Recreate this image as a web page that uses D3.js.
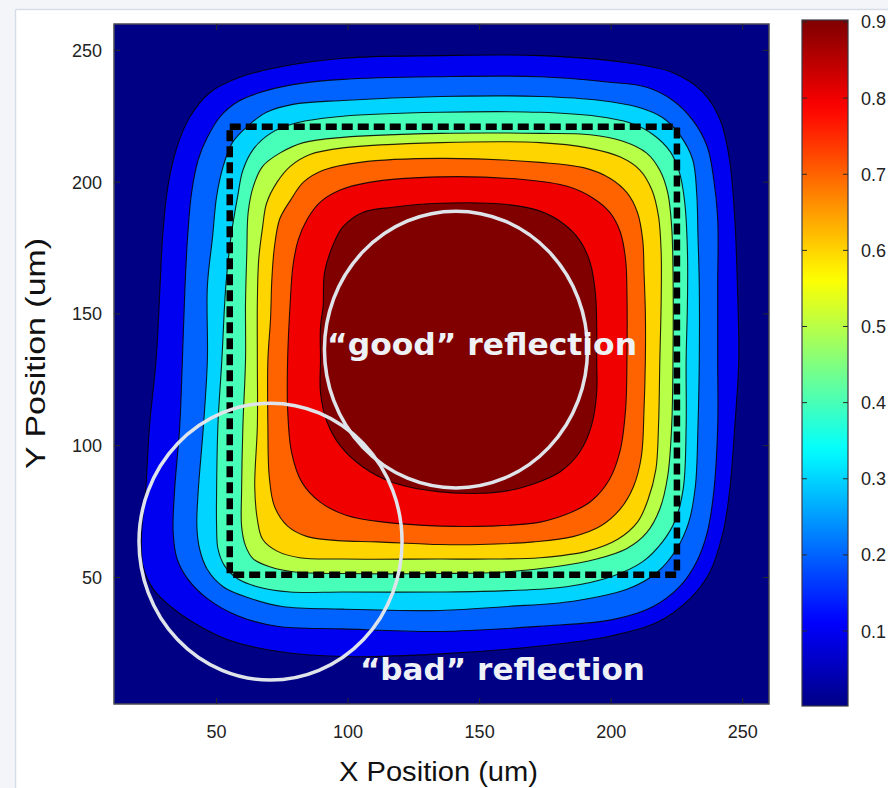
<!DOCTYPE html>
<html>
<head>
<meta charset="utf-8">
<script src="https://cdn.jsdelivr.net/npm/d3@7"></script>
<style>
  body { margin: 0; background: #ffffff; }
  svg { display: block; }
</style>
</head>
<body>
<svg id="chart" width="888" height="788"></svg>
<script>
// Contour levels of the normalised reflection intensity
const levels = [0.1, 0.2, 0.3, 0.4, 0.5, 0.6, 0.7, 0.8, 0.9];

// Iso-lines, one closed ring per level, as [x (um), y (um)]
const ring010 = [[98,247],[135,248],[173,248],[204.5,245.5],[223.5,241.5],[235,234],[241.5,223.5],[245,208.5],[247,186],[248,160.5],[248.5,132.5],[247,107.5],[245,82.5],[242.5,67],[237.5,52],[230,42],[217.5,33],[198.5,27.5],[173,24],[135,21],[98,20],[73,22],[54,26.5],[41,33],[32.5,39],[26,45.5],[22,54.5],[21.5,67],[23,82.5],[24.5,107.5],[27,132.5],[28.5,160.5],[29.5,179.5],[31.5,198.5],[35,213.5],[40,225],[47.5,234],[58,239.5],[73,243.5]];
const ring020 = [[98,239],[135,240],[173,240],[198.5,238],[213.5,236],[223.5,231],[231,223.5],[236.5,213.5],[239,201],[240.5,186],[240.5,160.5],[240.5,132.5],[240.5,107.5],[239,82.5],[236.5,67],[232.5,56],[226,46.5],[216,39],[200.5,34],[173,31.5],[135,29.5],[98,30.5],[73,31.5],[58,35.5],[46.5,42],[39,49.5],[35,57],[33.5,67],[34,82.5],[36,107.5],[37,132.5],[38,160.5],[39,179.5],[40.5,196],[43,208.5],[46.5,217],[51.5,225],[58,230.5],[66.5,234],[79,237]];
const ring030 = [[98,231],[135,232.5],[173,232.5],[196,231],[210,228.5],[219.5,224.5],[226,218],[231,208.5],[232.5,196],[233,179.5],[233.5,160.5],[233.5,132.5],[233,107.5],[232,84.5],[229.5,71],[225,61],[217.5,52],[206,45.5],[185.5,41],[160.5,39],[135,37.5],[98,38],[75,39],[61.5,42.5],[52.5,46.5],[46.5,53],[43.5,61],[42.5,69.5],[43,82.5],[45,107.5],[46.5,132.5],[46.5,160.5],[48.5,179.5],[50,194.5],[52.5,206],[56,215],[61.5,221],[69,226.5],[79,229.5]];
const ring040 = [[98,225],[135,226.5],[173,226.5],[194.5,225],[207,222.5],[216,218],[222.5,211.5],[226,203.5],[228,192],[229,173.5],[229,154.5],[228.5,132.5],[228.5,107.5],[227.5,84.5],[224.5,72],[219.5,63.5],[212,56],[200.5,50.5],[183,46.5],[160.5,45],[135,44.5],[98,44.5],[78,44.5],[65.5,46.5],[58,49.5],[53,54.5],[50.5,61],[50,69.5],[50,82.5],[50.5,107.5],[52,132.5],[53.5,160.5],[55.5,179.5],[58,194.5],[60,204.5],[64,212.5],[70.5,218.5],[80.5,222.5]];
const ring050 = [[98,217],[135,218.5],[173,218.5],[192,218],[204.5,215.5],[213.5,211],[218.5,204.5],[221.5,196],[223,183],[223.5,167],[223.5,132.5],[223,107.5],[221.5,88.5],[218.5,76],[213.5,67],[206,61],[194.5,57],[178,54],[158,52],[135,51.5],[98,51.5],[80.5,52],[70.5,54],[64,57],[61,62],[59.5,69.5],[59.5,82.5],[60,107.5],[61,132.5],[61,154.5],[61.5,173.5],[62,188.5],[64,198.5],[67.5,206],[74,211],[83,215]];
const ring060 = [[98,213],[135,215],[173,215],[191,213],[203.5,209.5],[211,204.5],[215.5,197],[218,187],[219,173.5],[219,154.5],[218.5,132.5],[218,107.5],[217,91],[214,79.5],[210,71],[202.5,64.5],[191,60],[173,57.5],[154,57],[135,57],[98,57],[81.5,57.5],[73,60],[67.5,64.5],[65.5,72],[64.5,84.5],[65.5,107.5],[65.5,132.5],[65.5,154.5],[66,170.5],[67.5,183],[69,192],[73,200],[78,206],[85.5,210.5]];
const ring070 = [[104.5,207.5],[135,209],[173,207.5],[189.5,205.5],[199.5,201.5],[206,196],[210,188.5],[212,178],[212.5,165.5],[213,150.5],[213,132.5],[212.5,114],[211.5,96],[208.5,84.5],[203.5,76],[196,69.5],[185.5,65.5],[170.5,63.5],[150,62.5],[135,62.5],[111,63.5],[96,64],[84.5,65.5],[77,69.5],[72,77],[70,88.5],[69.5,107.5],[69.5,132.5],[70.5,148],[71,163],[72,175.5],[74,186],[78,193],[83,200],[90.5,204.5]];
const ring080 = [[108.5,200],[135,202],[166.5,201],[183,198.5],[193,194],[199.5,188.5],[203.5,181],[205.5,170.5],[206,158],[206,132.5],[205.5,114],[203.5,98.5],[199.5,87.5],[193,79.5],[185.5,75],[173,71],[154,69.5],[135,69.5],[113.5,71],[99.5,73.5],[89.5,78.5],[82.5,86],[78.5,97.5],[77,114],[77,132.5],[78,154.5],[79,168],[81,178],[84.5,186],[89.5,192.5],[97,197]];
const ring090 = [[117,190.5],[135,192],[160.5,191.5],[173,189],[181.5,184.5],[188,178],[192,169.5],[194,158],[194.5,145],[194.5,132.5],[194.5,120],[192.5,107.5],[188,97.5],[180.5,90],[170.5,85.5],[158,82.5],[135,82.5],[117,86],[105.5,92],[97,100],[92,109],[89.5,120],[89.5,132.5],[89.5,145],[90.5,153],[91,165.5],[94,175.5],[98,183],[105.5,188.5]];
const contourRings = [ring010, ring020, ring030, ring040, ring050, ring060, ring070, ring080, ring090];

// Axis ticks
const xTicks = [50, 100, 150, 200, 250];
const yTicks = [50, 100, 150, 200, 250];
const colorbarTicks = [0.1, 0.2, 0.3, 0.4, 0.5, 0.6, 0.7, 0.8, 0.9];

// Pad outline (um)
const padX = [55, 225];
const padY = [51, 221];

// Highlighted regions: centre (um), radii (um), caption and its anchor (um)
const regionCentres = [[141, 136.5], [70.5, 63.6]];
const regionRadii = [[50, 52.5], [50, 52.5]];
const regionCaptions = ["\u201cgood\u201d reflection", "\u201cbad\u201d reflection"];
const captionAnchors = [[92, 134.6], [104.5, 11.1]];
const captionWidths = [310, 285];

const svg = d3.select("#chart");

// Page frame
svg.append("rect").attr("x", 0).attr("y", 0).attr("width", 888).attr("height", 9).attr("fill", "#f3f5f8");
svg.append("rect").attr("x", 0).attr("y", 0).attr("width", 15).attr("height", 788).attr("fill", "#f3f5f8");
svg.append("line").attr("x1", 15.5).attr("x2", 888).attr("y1", 9.5).attr("y2", 9.5).attr("stroke", "#d6dde6").attr("stroke-width", 1.5);
svg.append("line").attr("x1", 15.5).attr("x2", 15.5).attr("y1", 9.5).attr("y2", 788).attr("stroke", "#d6dde6").attr("stroke-width", 1.5);

// Scales
const plot = { left: 114, right: 769, top: 24, bottom: 704 };
const x = d3.scaleLinear().domain([11, 260]).range([plot.left, plot.right]);
const y = d3.scaleLinear().domain([2, 260]).range([plot.bottom, plot.top]);

// Jet colour map over the colour-axis range
const cMax = 0.9;
const jet = d3.scaleLinear()
  .domain([0, 0.125, 0.375, 0.625, 0.875, 1].map(t => t * cMax))
  .range(["#000084", "#0000ff", "#00ffff", "#ffff00", "#ff0000", "#800000"])
  .clamp(true);

svg.append("clipPath").attr("id", "plotClip")
  .append("rect").attr("x", plot.left).attr("y", plot.top)
  .attr("width", plot.right - plot.left).attr("height", plot.bottom - plot.top);

const gPlot = svg.append("g").attr("clip-path", "url(#plotClip)");

// Lowest band
gPlot.append("rect").attr("x", plot.left).attr("y", plot.top)
  .attr("width", plot.right - plot.left).attr("height", plot.bottom - plot.top)
  .attr("fill", jet(0));

// Filled contour bands, painted from the outermost level inwards
const ringLine = d3.line().x(d => x(d[0])).y(d => y(d[1])).curve(d3.curveCatmullRomClosed.alpha(0.5));
gPlot.selectAll("path.band").data(levels).join("path")
  .attr("class", "band")
  .attr("d", (lv, i) => ringLine(contourRings[i]))
  .attr("fill", lv => jet(lv))
  .attr("stroke", "#000")
  .attr("stroke-opacity", 0.85)
  .attr("stroke-width", 1.1);

// Pad outline
gPlot.append("rect")
  .attr("x", x(padX[0])).attr("y", y(padY[1]))
  .attr("width", x(padX[1]) - x(padX[0])).attr("height", y(padY[0]) - y(padY[1]))
  .attr("fill", "none").attr("stroke", "#000").attr("stroke-width", 6.5)
  .attr("stroke-dasharray", "11,5");

// Highlighted regions
gPlot.selectAll("ellipse.region").data(regionCentres).join("ellipse")
  .attr("class", "region")
  .attr("cx", d => x(d[0])).attr("cy", d => y(d[1]))
  .attr("rx", (d, i) => x(d[0] + regionRadii[i][0]) - x(d[0]))
  .attr("ry", (d, i) => y(d[1] - regionRadii[i][1]) - y(d[1]))
  .attr("fill", "none").attr("stroke", "#dfe4eb").attr("stroke-width", 3.5);

gPlot.selectAll("text.caption").data(regionCaptions).join("text")
  .attr("class", "caption")
  .attr("x", (d, i) => x(captionAnchors[i][0]))
  .attr("y", (d, i) => y(captionAnchors[i][1]))
  .attr("textLength", (d, i) => captionWidths[i])
  .attr("lengthAdjust", "spacingAndGlyphs")
  .attr("font-family", "DejaVu Sans, Verdana, sans-serif")
  .attr("font-weight", "bold")
  .attr("font-size", 31)
  .attr("fill", "#eef1f6")
  .text(d => d);

// Axes frame and inward ticks
const axisColor = "#2a2a2a";
const tickLen = 6;
const gAxes = svg.append("g");
gAxes.append("rect").attr("x", plot.left).attr("y", plot.top)
  .attr("width", plot.right - plot.left).attr("height", plot.bottom - plot.top)
  .attr("fill", "none").attr("stroke", "#4a4a55").attr("stroke-width", 1.5);

gAxes.selectAll("line.xt").data(xTicks).join("line").attr("class", "xt")
  .attr("x1", d => x(d)).attr("x2", d => x(d))
  .attr("y1", plot.bottom).attr("y2", plot.bottom - tickLen)
  .attr("stroke", axisColor).attr("stroke-width", 1);
gAxes.selectAll("line.xt2").data(xTicks).join("line").attr("class", "xt2")
  .attr("x1", d => x(d)).attr("x2", d => x(d))
  .attr("y1", plot.top).attr("y2", plot.top + tickLen)
  .attr("stroke", axisColor).attr("stroke-width", 1);
gAxes.selectAll("line.yt").data(yTicks).join("line").attr("class", "yt")
  .attr("y1", d => y(d)).attr("y2", d => y(d))
  .attr("x1", plot.left).attr("x2", plot.left + tickLen)
  .attr("stroke", axisColor).attr("stroke-width", 1);
gAxes.selectAll("line.yt2").data(yTicks).join("line").attr("class", "yt2")
  .attr("y1", d => y(d)).attr("y2", d => y(d))
  .attr("x1", plot.right).attr("x2", plot.right - tickLen)
  .attr("stroke", axisColor).attr("stroke-width", 1);

const labelFont = "Liberation Sans, Arial, Helvetica, sans-serif";
gAxes.selectAll("text.xl").data(xTicks).join("text").attr("class", "xl")
  .attr("x", d => x(d)).attr("y", 738)
  .attr("text-anchor", "middle")
  .attr("font-family", labelFont).attr("font-size", 18).attr("fill", "#222")
  .text(d => d);
gAxes.selectAll("text.yl").data(yTicks).join("text").attr("class", "yl")
  .attr("x", 102).attr("y", d => y(d) + 6.5)
  .attr("text-anchor", "end")
  .attr("font-family", labelFont).attr("font-size", 18).attr("fill", "#222")
  .text(d => d);

gAxes.append("text")
  .attr("x", 339).attr("y", 781)
  .attr("textLength", 199).attr("lengthAdjust", "spacingAndGlyphs")
  .attr("font-family", labelFont).attr("font-size", 27).attr("fill", "#111")
  .text("X Position (um)");
gAxes.append("text")
  .attr("transform", "translate(45,469) rotate(-90)")
  .attr("textLength", 231).attr("lengthAdjust", "spacingAndGlyphs")
  .attr("font-family", labelFont).attr("font-size", 27).attr("fill", "#111")
  .text("Y Position (um)");

// Colour bar
const cb = { left: 802, right: 848, top: 20, bottom: 706 };
const cbScale = d3.scaleLinear().domain([0.0015, 0.9026]).range([cb.bottom, cb.top]);
const grad = svg.append("defs").append("linearGradient")
  .attr("id", "jetGrad").attr("x1", 0).attr("y1", 1).attr("x2", 0).attr("y2", 0);
const cbDomain = cbScale.domain();
d3.range(0, 1.0001, 0.02).forEach(f => {
  const v = cbDomain[0] + f * (cbDomain[1] - cbDomain[0]);
  grad.append("stop").attr("offset", f).attr("stop-color", jet(v));
});
svg.append("rect").attr("x", cb.left).attr("y", cb.top)
  .attr("width", cb.right - cb.left).attr("height", cb.bottom - cb.top)
  .attr("fill", "url(#jetGrad)")
  .attr("stroke", "#3a3a44").attr("stroke-width", 1.2);
svg.selectAll("line.cbl").data(colorbarTicks).join("line").attr("class", "cbl")
  .attr("x1", cb.left).attr("x2", cb.left + 5)
  .attr("y1", d => cbScale(d)).attr("y2", d => cbScale(d))
  .attr("stroke", axisColor).attr("stroke-width", 1);
svg.selectAll("line.cbr").data(colorbarTicks).join("line").attr("class", "cbr")
  .attr("x1", cb.right).attr("x2", cb.right - 5)
  .attr("y1", d => cbScale(d)).attr("y2", d => cbScale(d))
  .attr("stroke", axisColor).attr("stroke-width", 1);
svg.selectAll("text.cbt").data(colorbarTicks).join("text").attr("class", "cbt")
  .attr("x", 861).attr("y", d => cbScale(d) + 6.5)
  .attr("font-family", labelFont).attr("font-size", 18).attr("fill", "#222")
  .text(d => d.toFixed(1));
</script>
</body>
</html>
